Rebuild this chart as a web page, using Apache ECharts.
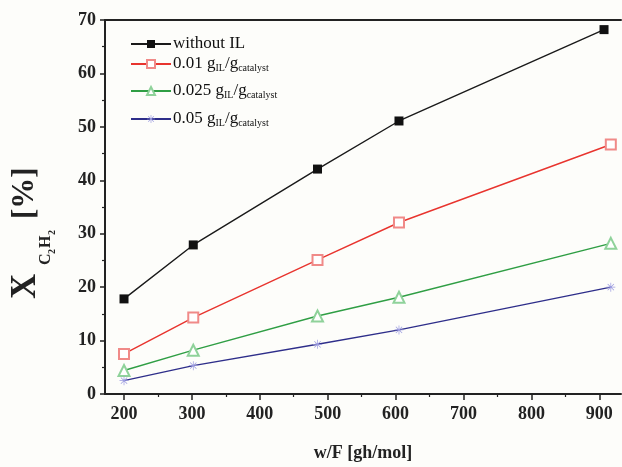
<!DOCTYPE html>
<html>
<head>
<meta charset="utf-8">
<script src="https://cdn.jsdelivr.net/npm/echarts@6/dist/echarts.min.js"></script>
<style>
  html, body { margin: 0; padding: 0; background: #fdfdfa; }
  #chart { width: 622px; height: 467px; }
</style>
</head>
<body>
<div id="chart"></div>
<script>
// values
var xNoIL = [200, 302, 485, 605, 907];
var xIL = [200, 302, 485, 605, 917];
var yNoIL = [17.8, 27.9, 42.1, 51.1, 68.2];
var y001 = [7.5, 14.3, 25.1, 32.1, 46.7];
var y0025 = [4.4, 8.2, 14.6, 18.1, 28.2];
var y005 = [2.5, 5.3, 9.3, 12.0, 20.0];
var xTicks = [200, 300, 400, 500, 600, 700, 800, 900];
var xMinorTicks = [250, 350, 450, 550, 650, 750, 850];
var seriesNames = ['without IL', '0.01 gIL/gcatalyst', '0.025 gIL/gcatalyst', '0.05 gIL/gcatalyst'];
var legendLabels = [
    'without IL',
    '0.01 g{s|IL}/g{s|catalyst}',
    '0.025 g{s|IL}/g{s|catalyst}',
    '0.05 g{s|IL}/g{s|catalyst}'
];

var serif = "'Liberation Serif', 'DejaVu Serif', serif";

function pairs(xs, ys) {
    var out = [];
    for (var i = 0; i < ys.length; i++) {
        out.push([xs[i], ys[i]]);
    }
    return out;
}

// asterisk marker of the last series
var starPath = 'path://M-0.8,-10L0.8,-10L0.8,10L-0.8,10Z' +
    'M-10,-0.8L10,-0.8L10,0.8L-10,0.8Z' +
    'M-7.6,-6.5L-6.5,-7.6L7.6,6.5L6.5,7.6Z' +
    'M6.5,-7.6L7.6,-6.5L-6.5,7.6L-7.6,6.5Z';

var legendTops = [30, 50, 77, 105];
var legends = [];
for (var i = 0; i < 4; i++) {
    legends.push({
        data: [seriesNames[i]],
        left: 125,
        top: legendTops[i],
        itemWidth: 40,
        itemHeight: 10,
        itemGap: 0,
        formatter: (function (k) { return function () { return legendLabels[k]; }; })(i),
        textStyle: {
            fontFamily: serif,
            fontSize: 17,
            color: '#111',
            lineHeight: 18,
            padding: [0, 0, 0, -3],
            rich: {
                s: { fontFamily: serif, fontSize: 10, color: '#111', lineHeight: 8, verticalAlign: 'bottom' }
            }
        }
    });
}

var chartDom = document.getElementById('chart');
var myChart = echarts.init(chartDom, null, { renderer: 'canvas' });
var option = {
    backgroundColor: '#fdfdfa',
    animation: false,
    grid: { left: 105, right: 1, top: 20, bottom: 67 },
    legend: legends,
    xAxis: [
        {
            type: 'value',
            min: 172,
            max: 932,
            position: 'bottom',
            name: 'w/F [gh/mol]',
            nameLocation: 'middle',
            nameGap: 50,
            nameTextStyle: { fontFamily: serif, fontSize: 18, fontWeight: 'bold', color: '#222' },
            axisLine: { show: true, onZero: false, lineStyle: { color: '#222', width: 2 } },
            axisTick: { show: true, inside: false, length: 6, customValues: xTicks, lineStyle: { color: '#222', width: 1.5 } },
            axisLabel: { customValues: xTicks, margin: 11, fontFamily: serif, fontSize: 18, fontWeight: 'bold', color: '#222' },
            splitLine: { show: false }
        },
        {
            // minor ticks only
            type: 'value',
            min: 172,
            max: 932,
            position: 'bottom',
            gridIndex: 0,
            axisLine: { show: false },
            axisTick: { show: true, inside: false, length: 3, customValues: xMinorTicks, lineStyle: { color: '#222', width: 1.2 } },
            axisLabel: { show: false },
            splitLine: { show: false }
        },
        {
            // top frame
            type: 'value',
            min: 172,
            max: 932,
            position: 'top',
            axisLine: { show: true, lineStyle: { color: '#222', width: 2 } },
            axisTick: { show: false },
            axisLabel: { show: false },
            splitLine: { show: false }
        }
    ],
    yAxis: {
        type: 'value',
        min: 0,
        max: 70,
        interval: 10,
        axisLine: { show: true, onZero: false, lineStyle: { color: '#222', width: 2 } },
        axisTick: { show: true, inside: false, length: 5, lineStyle: { color: '#222', width: 1.5 } },
        minorTick: { show: true, splitNumber: 2, length: 3, lineStyle: { color: '#222', width: 1.2 } },
        axisLabel: { margin: 9, fontFamily: serif, fontSize: 18, fontWeight: 'bold', color: '#222' },
        splitLine: { show: false }
    },
    graphic: [
        {
            type: 'group',
            x: 38,
            y: 299,
            rotation: Math.PI / 2,
            children: [
                { type: 'text', x: 0, y: -12, style: { text: 'X', fontFamily: serif, fontSize: 35, fontWeight: 'bold', fill: '#222', verticalAlign: 'middle' } },
                { type: 'text', x: 34, y: 8, style: { text: 'C', fontFamily: serif, fontSize: 16, fontWeight: 'bold', fill: '#222', verticalAlign: 'middle' } },
                { type: 'text', x: 45, y: 14, style: { text: '2', fontFamily: serif, fontSize: 10, fontWeight: 'bold', fill: '#222', verticalAlign: 'middle' } },
                { type: 'text', x: 51, y: 8, style: { text: 'H', fontFamily: serif, fontSize: 16, fontWeight: 'bold', fill: '#222', verticalAlign: 'middle' } },
                { type: 'text', x: 64, y: 14, style: { text: '2', fontFamily: serif, fontSize: 10, fontWeight: 'bold', fill: '#222', verticalAlign: 'middle' } },
                { type: 'text', x: 80, y: -13, style: { text: '[%]', fontFamily: serif, fontSize: 31, fontWeight: 'bold', fill: '#222', verticalAlign: 'middle' } }
            ]
        }
    ],
    series: [
        {
            name: seriesNames[0],
            type: 'line',
            data: pairs(xNoIL, yNoIL),
            symbol: 'rect',
            symbolSize: 9,
            lineStyle: { color: '#1a1a1a', width: 1.4 },
            itemStyle: { color: '#111' }
        },
        {
            name: seriesNames[1],
            type: 'line',
            data: pairs(xIL, y001),
            symbol: 'emptyRect',
            symbolSize: 10,
            lineStyle: { color: '#e8342e', width: 1.4 },
            itemStyle: { color: '#f08a88', borderWidth: 1.2 }
        },
        {
            name: seriesNames[2],
            type: 'line',
            data: pairs(xIL, y0025),
            symbol: 'emptyTriangle',
            symbolSize: 11,
            lineStyle: { color: '#2f9e44', width: 1.4 },
            itemStyle: { color: '#8fd29a', borderWidth: 1.2 }
        },
        {
            name: seriesNames[3],
            type: 'line',
            data: pairs(xIL, y005),
            symbol: starPath,
            symbolSize: 9,
            lineStyle: { color: '#2e2e8a', width: 1.4 },
            itemStyle: { color: '#9c9ce0' }
        }
    ]
};
option && myChart.setOption(option);
</script>
</body>
</html>
